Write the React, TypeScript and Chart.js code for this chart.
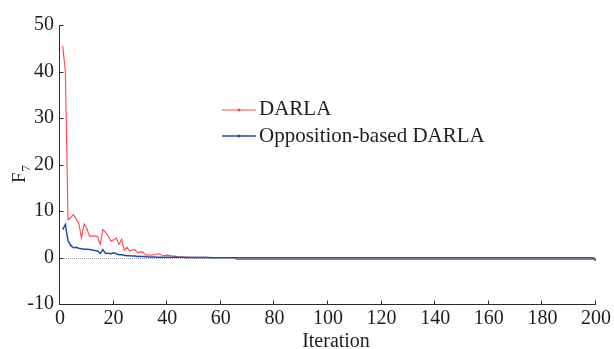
import React, { useEffect, useRef } from "react";
import { Chart, registerables } from "chart.js";

Chart.register(...registerables);

// ---- Data ----
const xTicks = [0, 20, 40, 60, 80, 100, 120, 140, 160, 180, 200];
const yTicks = [-10, 0, 10, 20, 30, 40, 50];
const seriesLabels = ["DARLA", "Opposition-based DARLA"];

// DARLA, iterations 1..200
const darla = [
  45.5, 40.0, 8.1, 8.6, 9.2, 8.3, 7.4, 4.2, 7.2, 6.3, // 1-10
  4.6, 4.6, 4.6, 4.5, 2.8, 6.0, 5.4, 4.6, 3.5, 3.8, // 11-20
  4.2, 2.8, 3.9, 1.5, 2.2, 1.4, 1.6, 1.7, 1.0, 1.2, // 21-30
  1.1, 0.5, 0.6, 0.5, 0.6, 0.7, 0.8, 0.5, 0.4, 0.5, // 31-40
  0.4, 0.3, 0.3, 0.15, 0.1, 0.1, 0.08, 0.06, 0.05, 0.05, // 41-50
  0.04, 0.03, 0.03, 0.02, 0.02, 0.02, 0.01, 0.01, 0.01, 0.0, // 51-60
  0.0, 0.0, 0.0, 0.0, 0.0, -0.4, -0.4, -0.4, -0.4, -0.4, // 61-70
  -0.4, -0.4, -0.4, -0.4, -0.4, -0.4, -0.4, -0.4, -0.4, -0.4, // 71-80
  -0.4, -0.4, -0.4, -0.4, -0.4, -0.4, -0.4, -0.4, -0.4, -0.4, // 81-90
  -0.4, -0.4, -0.4, -0.4, -0.4, -0.4, -0.4, -0.4, -0.4, -0.4, // 91-100
  -0.4, -0.4, -0.4, -0.4, -0.4, -0.4, -0.4, -0.4, -0.4, -0.4, // 101-110
  -0.4, -0.4, -0.4, -0.4, -0.4, -0.4, -0.4, -0.4, -0.4, -0.4, // 111-120
  -0.4, -0.4, -0.4, -0.4, -0.4, -0.4, -0.4, -0.4, -0.4, -0.4, // 121-130
  -0.4, -0.4, -0.4, -0.4, -0.4, -0.4, -0.4, -0.4, -0.4, -0.4, // 131-140
  -0.4, -0.4, -0.4, -0.4, -0.4, -0.4, -0.4, -0.4, -0.4, -0.4, // 141-150
  -0.4, -0.4, -0.4, -0.4, -0.4, -0.4, -0.4, -0.4, -0.4, -0.4, // 151-160
  -0.4, -0.4, -0.4, -0.4, -0.4, -0.4, -0.4, -0.4, -0.4, -0.4, // 161-170
  -0.4, -0.4, -0.4, -0.4, -0.4, -0.4, -0.4, -0.4, -0.4, -0.4, // 171-180
  -0.4, -0.4, -0.4, -0.4, -0.4, -0.4, -0.4, -0.4, -0.4, -0.4, // 181-190
  -0.4, -0.4, -0.4, -0.4, -0.4, -0.4, -0.4, -0.4, -0.4, -0.7, // 191-200
];

// Opposition-based DARLA, iterations 1..200
const oppDarla = [
  6.0, 7.1, 3.6, 2.6, 2.1, 2.2, 2.0, 1.9, 1.8, 1.8, // 1-10
  1.7, 1.6, 1.5, 1.4, 0.9, 1.7, 0.9, 0.9, 0.8, 1.0, // 11-20
  0.8, 0.6, 0.6, 0.5, 0.4, 0.4, 0.3, 0.3, 0.2, 0.2, // 21-30
  0.2, 0.15, 0.1, 0.1, 0.1, 0.08, 0.08, 0.06, 0.05, 0.05, // 31-40
  0.05, 0.04, 0.04, 0.03, 0.03, 0.03, 0.02, 0.02, 0.02, 0.02, // 41-50
  0.01, 0.01, 0.01, 0.01, 0.01, -0.08, -0.08, -0.08, -0.08, -0.08, // 51-60
  -0.08, -0.08, -0.08, -0.08, -0.08, -0.08, -0.08, -0.08, -0.08, -0.08, // 61-70
  -0.08, -0.08, -0.08, -0.08, -0.08, -0.08, -0.08, -0.08, -0.08, -0.08, // 71-80
  -0.08, -0.08, -0.08, -0.08, -0.08, -0.08, -0.08, -0.08, -0.08, -0.08, // 81-90
  -0.08, -0.08, -0.08, -0.08, -0.08, -0.08, -0.08, -0.08, -0.08, -0.08, // 91-100
  -0.08, -0.08, -0.08, -0.08, -0.08, -0.08, -0.08, -0.08, -0.08, -0.08, // 101-110
  -0.08, -0.08, -0.08, -0.08, -0.08, -0.08, -0.08, -0.08, -0.08, -0.08, // 111-120
  -0.08, -0.08, -0.08, -0.08, -0.08, -0.08, -0.08, -0.08, -0.08, -0.08, // 121-130
  -0.08, -0.08, -0.08, -0.08, -0.08, -0.08, -0.08, -0.08, -0.08, -0.08, // 131-140
  -0.08, -0.08, -0.08, -0.08, -0.08, -0.08, -0.08, -0.08, -0.08, -0.08, // 141-150
  -0.08, -0.08, -0.08, -0.08, -0.08, -0.08, -0.08, -0.08, -0.08, -0.08, // 151-160
  -0.08, -0.08, -0.08, -0.08, -0.08, -0.08, -0.08, -0.08, -0.08, -0.08, // 161-170
  -0.08, -0.08, -0.08, -0.08, -0.08, -0.08, -0.08, -0.08, -0.08, -0.08, // 171-180
  -0.08, -0.08, -0.08, -0.08, -0.08, -0.08, -0.08, -0.08, -0.08, -0.08, // 181-190
  -0.08, -0.08, -0.08, -0.08, -0.08, -0.08, -0.08, -0.08, -0.08, -0.5, // 191-200
];

const iterations = darla.map((_, i) => i + 1);

const RED = "rgb(255,72,72)";
const BLUE = "rgb(28,78,172)";
const AXIS = "#2a2a2a";
const TEXT = "#1e1e1e";
const FONT = "'Liberation Serif', 'Times New Roman', serif";

const decorPlugin = {
  id: "decor",
  beforeDatasetsDraw(chart: any) {
    const { ctx, chartArea: a, scales } = chart;
    const y0 = Math.round(scales.y.getPixelForValue(0)) + 0.5;
    ctx.save();
    ctx.strokeStyle = "#9a9a9a";
    ctx.lineWidth = 1;
    ctx.setLineDash([1, 1]);
    ctx.beginPath();
    ctx.moveTo(a.left, y0);
    ctx.lineTo(a.right, y0);
    ctx.stroke();
    ctx.restore();
  },
  afterDraw(chart: any) {
    const { ctx, chartArea: a, scales } = chart;
    const xs = scales.x;
    const ys = scales.y;
    ctx.save();
    // axes
    const left = a.left - 0.5;
    const bottom = a.bottom + 0.5;
    ctx.strokeStyle = AXIS;
    ctx.lineWidth = 1;
    ctx.beginPath();
    ctx.moveTo(left, a.top);
    ctx.lineTo(left, bottom);
    ctx.lineTo(a.right, bottom);
    ctx.stroke();
    // inward ticks
    ctx.beginPath();
    xTicks.forEach((v) => {
      const px = Math.round(xs.getPixelForValue(v)) - 0.5;
      ctx.moveTo(px, bottom);
      ctx.lineTo(px, bottom - 4);
    });
    yTicks.forEach((v) => {
      const py = Math.round(ys.getPixelForValue(v)) + 0.5;
      ctx.moveTo(left, py);
      ctx.lineTo(left + 4, py);
    });
    ctx.stroke();

    // x title
    ctx.fillStyle = TEXT;
    ctx.font = `20px ${FONT}`;
    ctx.textAlign = "center";
    ctx.textBaseline = "alphabetic";
    ctx.fillText("Iteration", 336, 347);

    // y title F7 (subscript)
    ctx.save();
    ctx.translate(25, 183);
    ctx.rotate(-Math.PI / 2);
    ctx.textAlign = "left";
    ctx.font = `19px ${FONT}`;
    ctx.fillText("F", 0, 0);
    const fw = ctx.measureText("F").width;
    ctx.font = `13px ${FONT}`;
    ctx.fillText("7", fw + 1, 5);
    ctx.restore();

    // legend
    const ds = chart.data.datasets;
    const items = [
      { y: 110, textY: 114.5 },
      { y: 136, textY: 141.5 },
    ];
    ds.forEach((d: any, i: number) => {
      const it = items[i];
      ctx.strokeStyle = d.borderColor;
      ctx.lineWidth = d.borderWidth;
      ctx.beginPath();
      ctx.moveTo(222, it.y);
      ctx.lineTo(256, it.y);
      ctx.stroke();
      ctx.fillStyle = d.borderColor;
      ctx.beginPath();
      ctx.arc(239, it.y, 1.5, 0, Math.PI * 2);
      ctx.fill();
      ctx.fillStyle = TEXT;
      ctx.font = `21px ${FONT}`;
      ctx.textAlign = "left";
      ctx.fillText(d.label, 259, it.textY);
    });
    ctx.restore();
  },
};

export default function App() {
  const canvasRef = useRef<HTMLCanvasElement | null>(null);

  useEffect(() => {
    const canvas = canvasRef.current;
    if (!canvas) return;
    const chart = new Chart(canvas, {
      type: "line",
      data: {
        labels: iterations,
        datasets: [
          {
            label: seriesLabels[0],
            data: darla.map((v, i) => ({ x: iterations[i], y: v })),
            borderColor: RED,
            borderWidth: 1.1,
            pointRadius: 0,
            tension: 0,
            order: 2,
          },
          {
            label: seriesLabels[1],
            data: oppDarla.map((v, i) => ({ x: iterations[i], y: v })),
            borderColor: BLUE,
            borderWidth: 1.5,
            pointRadius: 0,
            tension: 0,
            order: 1,
          },
        ],
      },
      options: {
        animation: false,
        responsive: false,
        maintainAspectRatio: false,
        layout: { padding: { top: 25, right: 14, left: 0, bottom: 0 } },
        plugins: {
          legend: { display: false },
          tooltip: { enabled: false },
        },
        scales: {
          x: {
            type: "linear",
            min: 0,
            max: 200,
            afterBuildTicks: (s: any) => {
              s.ticks = xTicks.map((v) => ({ value: v }));
            },
            ticks: {
              color: TEXT,
              font: { family: FONT, size: 20 },
              padding: 3,
              maxRotation: 0,
              autoSkip: false,
            },
            grid: { display: false, drawTicks: false },
            border: { display: false },
            afterFit: (s: any) => {
              s.height = 45;
            },
          },
          y: {
            type: "linear",
            min: -10,
            max: 50,
            afterBuildTicks: (s: any) => {
              s.ticks = yTicks.map((v) => ({ value: v }));
            },
            ticks: {
              color: TEXT,
              font: { family: FONT, size: 20 },
              padding: 6,
              autoSkip: false,
            },
            grid: { display: false, drawTicks: false },
            border: { display: false },
            afterFit: (s: any) => {
              s.width = 60;
            },
          },
        },
      },
      plugins: [decorPlugin],
    });
    return () => chart.destroy();
  }, []);

  return (
    <div style={{ position: "fixed", left: 0, top: 0, width: 614, height: 349, background: "#fff" }}>
      <canvas ref={canvasRef} width={614} height={349} style={{ width: 614, height: 349, display: "block" }} />
    </div>
  );
}
